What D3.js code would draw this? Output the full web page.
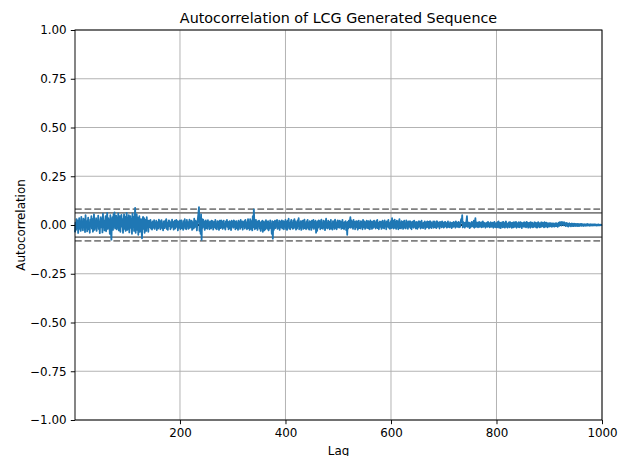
<!DOCTYPE html>
<html><head><meta charset="utf-8">
<script src="https://cdn.jsdelivr.net/npm/d3@7"></script>
<style>body{margin:0;background:#fff}svg{display:block}text{font-family:"DejaVu Sans",sans-serif;fill:#000}</style>
</head><body><div id="chart"></div>
<script>
// autocorrelation values in thousandths, lags 1..1000
const acfPerMille = [
-38,12,-25,30,-15,22,-41,8,35,-20, 18,-30,42,-10,5,-28,33,-5,24,-36, 50,-12,20,-33,10,38,-22,4,-40,27, -8,45,-18,30,-35,15,55,-25,12,-15, 35,-30,20,-5,48,-20,8,-42,25,40,
-12,30,-38,58,-10,22,-28,15,45,-32, 10,62,-20,35,-15,28,-45,50,-30,-75, 20,40,-25,55,-10,65,-18,30,48,-22, 38,-15,60,-28,12,45,-35,25,52,-8, 30,-40,18,55,-20,42,-30,10,62,-25,
35,-20,50,-38,22,45,-15,30,-45,60, -10,40,-30,25,88,-40,15,55,-25,38, -50,20,45,-35,10,30,-15,-68,25,42, -20,35,-40,15,28,-30,40,-12,22,-35, 22,-12,8,26,-18,10,-24,18,4,-14,
25,-20,12,-8,22,-26,15,6,-18,28, -10,20,-22,8,25,-14,4,-28,18,12, -16,22,-8,30,-20,10,-25,14,24,-6, 18,-22,10,-14,28,-6,16,-24,8,22, -18,12,26,-10,20,-28,6,18,-14,24,
-22,10,24,-16,6,-25,20,-8,30,-18, 12,-22,26,-6,15,-20,8,28,-14,18, -10,22,-25,14,5,-18,32,-12,22,-6, 18,-28,10,35,60,92,-30,20,-45,55, -76,30,-15,28,-8,18,-25,10,24,-16,
14,-20,25,-6,12,-22,18,5,-18,22, -10,20,-24,10,16,-12,26,-18,6,-22, 20,-8,14,-25,22,4,-16,24,-12,18, -20,10,22,-14,6,-24,18,-5,26,-10, 16,-22,8,20,-18,12,-26,22,-6,14,
-14,24,-10,18,-22,6,20,-16,10,-25, 22,-8,16,-20,26,-12,5,18,-24,14, -6,20,-18,26,-10,14,-22,8,30,-16, 12,-25,30,22,-20,18,-28,45,-12,80, 18,-22,8,26,-16,14,-25,20,-6,22,
-18,10,-30,16,-10,22,-35,6,18,-28, 12,-22,25,-14,15,-20,20,-28,10,-18, 24,-14,6,-45,20,-70,16,-25,12,22, -16,18,-8,26,-20,10,-14,22,-25,8, 18,-12,24,-18,6,20,-22,14,-8,26,
-20,14,-25,22,-8,32,-18,10,-22,16, 26,-12,6,-20,22,-16,30,-10,18,-24, 12,-18,24,-6,35,-22,10,-14,20,-25, 18,-8,22,-20,14,28,-16,8,-22,18, -12,26,-18,10,-24,20,-6,16,-25,22,
-14,8,26,-20,14,-10,22,-40,12,-30, 18,-14,24,-8,20,-22,10,28,-16,6, -20,22,-10,18,-26,12,32,-14,8,-18, 22,-12,16,-22,10,26,-18,6,-24,20, -10,18,-20,28,-14,10,-22,16,24,-12,
18,-14,22,-10,16,-20,8,26,-16,12, -22,14,-8,20,-26,10,-50,16,-18,22, -12,18,40,-14,24,-10,14,-20,26,-6, 16,-22,10,20,-12,18,-24,6,22,-16, 10,-18,20,-8,14,-22,26,-12,8,18,
-20,12,-10,22,-16,8,20,-18,14,-22, 24,-10,16,-20,6,18,-14,22,-8,12, -18,20,-12,26,-16,10,-22,14,18,-10, 16,-20,8,22,-14,12,-18,24,-6,14, -22,18,-10,16,26,-14,8,-20,12,20,
-16,35,-12,22,-18,10,28,-14,16,-20, 22,-10,18,-22,12,30,-16,8,-18,20, -12,16,-20,10,22,-14,6,-18,24,-8, 14,-20,18,-10,8,20,-16,12,-22,16, -10,18,-14,22,-8,12,-18,16,10,-20,
14,-12,20,-6,16,-18,10,22,-14,8, -16,12,-8,18,-20,10,14,-12,18,-10, 16,-18,6,20,-12,14,-16,10,-6,18, -14,10,18,-12,8,-16,20,-10,14,-8, 12,-18,16,-6,14,-12,18,-8,10,-14,
14,-10,16,-6,10,-14,8,18,-10,6, -12,14,-8,10,-16,12,5,-10,16,-6, 10,-14,18,-8,12,-10,6,16,-12,8, -10,14,30,15,50,-12,16,-8,10,-14, 12,-6,20,45,-10,14,-8,12,-16,8,
-12,10,16,-6,12,-10,22,-14,8,35, -10,14,-8,12,-12,6,16,-10,10,-8, 14,-12,8,18,-10,12,-6,10,-14,8, -8,12,-10,16,-6,10,-12,8,14,-10, 10,-8,12,-14,6,16,-10,8,-12,10,
-12,15,-10,18,-14,8,12,-16,10,-8, 14,-12,16,-10,8,-14,12,18,-10,6, -14,10,-8,15,-12,14,-6,10,-15,12, 8,-12,15,-10,12,-8,16,-14,10,6, -10,14,-12,8,15,-10,12,-16,8,-6,
12,-10,14,-8,10,-12,16,-6,12,-14, 10,-8,12,-14,15,-10,8,12,-12,6, -10,14,-6,12,-12,10,-14,8,15,-8, 10,-12,8,-10,14,-8,12,-6,10,-12, 14,-10,6,12,-8,10,-12,8,-6,10,
-8,10,-6,8,-10,6,9,-7,5,-8, 8,-6,10,-5,7,-9,6,12,-4,15, 6,14,-3,16,8,12,-2,15,5,10, -6,8,11,-5,7,-8,6,9,-4,5, -7,6,8,-5,4,-6,7,-4,6,-5,
5,-4,6,-6,3,5,-5,4,-3,6, -4,5,-3,4,-5,3,4,-4,3,-3, 4,-3,5,-2,3,-4,2,4,-3,3, -2,3,-3,2,4,-2,3,-2,2,-3, 2,-2,3,-1,2,-2,1,2,-1,0
];
const nObs = 1000;
const yTicks = [-1, -0.75, -0.5, -0.25, 0, 0.25, 0.5, 0.75, 1];
const xTicks = [200, 400, 600, 800, 1000];
const z95 = 1.959963984540054, z99 = 2.5758293035489;
const acf = acfPerMille.map((v, i) => ({lag: i + 1, r: v / 1000}));

const W = 625, H = 456;
const m = {left: 75, right: 23, top: 30, bottom: 36};
const iw = W - m.left - m.right, ih = H - m.top - m.bottom;
const svg = d3.select("#chart").append("svg").attr("width", W).attr("height", H);
const g = svg.append("g").attr("transform", `translate(${m.left},${m.top})`);
const x = d3.scaleLinear().domain([1, acf.length]).range([0, iw]);
const y = d3.scaleLinear().domain([-1, 1]).range([ih, 0]);

// grid
g.append("g").selectAll("line").data(xTicks).join("line")
  .attr("x1", d => x(d)).attr("x2", d => x(d)).attr("y1", 0).attr("y2", ih)
  .attr("stroke", "#b0b0b0").attr("stroke-width", 0.96);
g.append("g").selectAll("line").data(yTicks).join("line")
  .attr("y1", d => y(d)).attr("y2", d => y(d)).attr("x1", 0).attr("x2", iw)
  .attr("stroke", "#b0b0b0").attr("stroke-width", 0.96);

// reference lines
const refs = [
  {v: z99 / Math.sqrt(nObs), c: "grey", dash: "6.7,2.9"},
  {v: z95 / Math.sqrt(nObs), c: "grey", dash: null},
  {v: 0, c: "black", dash: null},
  {v: -z95 / Math.sqrt(nObs), c: "grey", dash: null},
  {v: -z99 / Math.sqrt(nObs), c: "grey", dash: "6.7,2.9"}
];
g.append("g").selectAll("line").data(refs).join("line")
  .attr("x1", 0).attr("x2", iw).attr("y1", d => y(d.v)).attr("y2", d => y(d.v))
  .attr("stroke", d => d.c).attr("stroke-width", 1.8)
  .attr("stroke-dasharray", d => d.dash);

// series
g.append("path").datum(acf)
  .attr("fill", "none").attr("stroke", "#1f77b4").attr("stroke-width", 1.8)
  .attr("stroke-linejoin", "round")
  .attr("d", d3.line().x(d => x(d.lag)).y(d => y(d.r)));

// frame
g.append("rect").attr("width", iw).attr("height", ih).attr("fill", "none")
  .attr("stroke", "#000").attr("stroke-width", 0.96);

// axes
const fmtY = v => d3.format(".2f")(v).replace("-", "\u2212");
const xa = g.append("g").attr("transform", `translate(0,${ih})`)
  .call(d3.axisBottom(x).tickValues(xTicks).tickFormat(d3.format("d")).tickSize(4.2).tickPadding(4.2));
const ya = g.append("g")
  .call(d3.axisLeft(y).tickValues(yTicks).tickFormat(fmtY).tickSize(4.2).tickPadding(4.2));
[xa, ya].forEach(a => {
  a.select(".domain").remove();
  a.selectAll(".tick line").attr("stroke", "#000").attr("stroke-width", 0.96);
  a.selectAll("text").attr("font-size", "11.9px").attr("font-family", "DejaVu Sans");
});

// labels
svg.append("text").attr("x", m.left + iw / 2).attr("y", 23).attr("text-anchor", "middle")
  .attr("font-size", "14.3px").text("Autocorrelation of LCG Generated Sequence");
svg.append("text").attr("x", m.left + iw / 2).attr("y", 455).attr("text-anchor", "middle")
  .attr("font-size", "11.9px").text("Lag");
svg.append("text").attr("transform", `translate(25,${m.top + ih / 2}) rotate(-90)`)
  .attr("text-anchor", "middle").attr("font-size", "11.9px").text("Autocorrelation");
</script></body></html>
